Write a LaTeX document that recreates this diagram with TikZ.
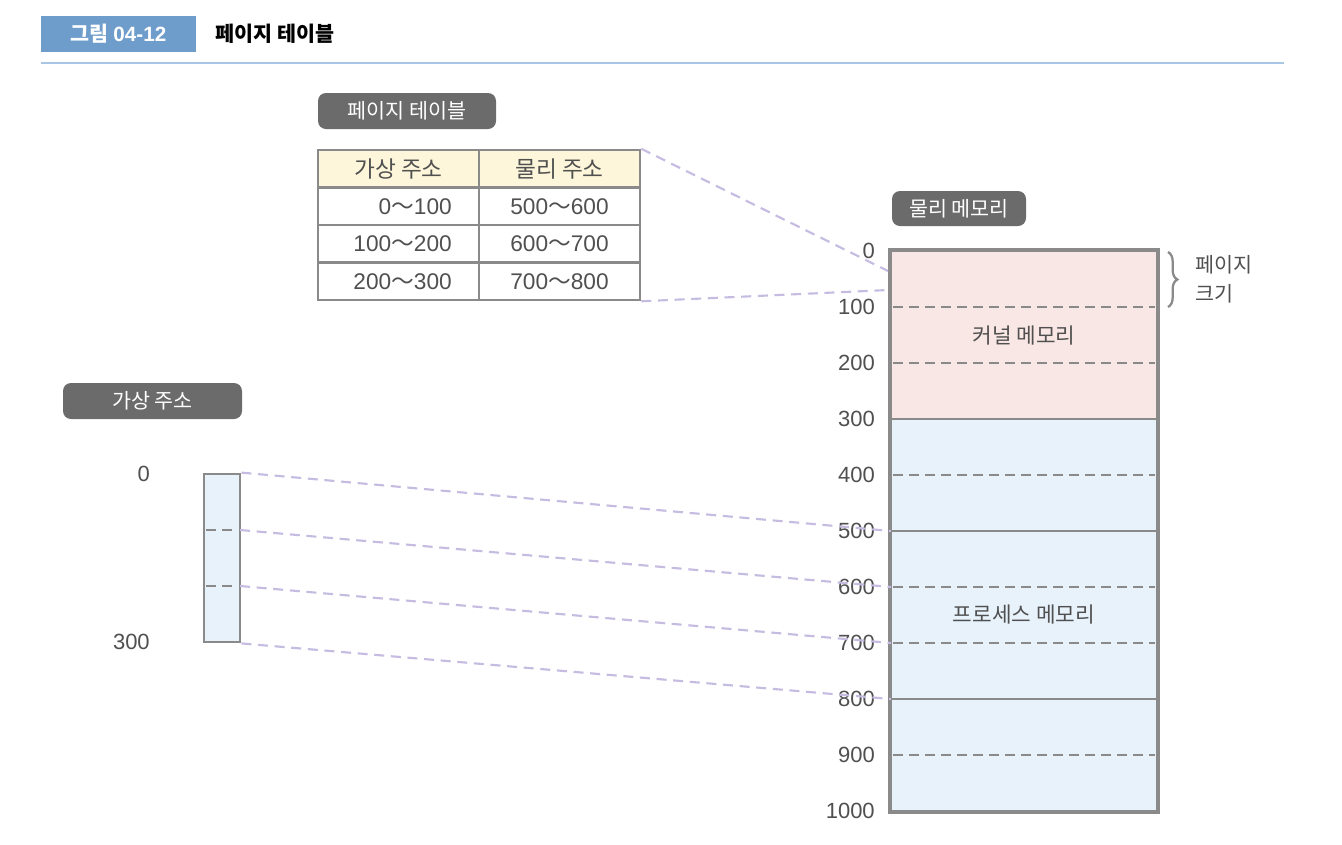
\documentclass[tikz,border=0pt]{standalone}
\usepackage{fontspec}
\setmainfont{Noto Sans CJK KR}
\newfontfamily\numf{Liberation Sans}
\usetikzlibrary{decorations.pathreplacing}
\definecolor{titleblue}{HTML}{6E9DCB}
\definecolor{ruleblue}{HTML}{A9C6E4}
\definecolor{tagbg}{HTML}{6B6B6B}
\definecolor{txt}{HTML}{505050}
\definecolor{edge}{HTML}{8A8A8A}
\definecolor{kern}{HTML}{F9E7E5}
\definecolor{proc}{HTML}{E8F2FB}
\definecolor{head}{HTML}{FDF6DA}
\definecolor{lila}{HTML}{C6BCE2}
\newcommand{\rng}[2]{{\numf #1}～{\numf #2}}
\tikzset{
  tag/.style={fill=tagbg, text=white, rounded corners=6pt, inner sep=0pt, font=\fontsize{15.5pt}{18pt}\selectfont},
  cellbox/.style={draw=edge, line width=1.9pt, minimum width=120.75pt, minimum height=28.125pt, inner sep=0pt, font=\fontsize{17pt}{20pt}\selectfont, text=txt},
  memcell/.style={draw=edge, line width=2.1pt, minimum width=199.5pt, inner sep=0pt},
  divdash/.style={draw=edge, line width=1.9pt, dash pattern=on 7.5pt off 4.5pt},
  divsolid/.style={draw=edge, line width=1.9pt},
  lbl/.style={text=txt, font=\fontsize{17pt}{20pt}\selectfont, inner sep=0pt},
  numlbl/.style={text=txt, font=\numf\fontsize{16.5pt}{20pt}\selectfont, inner sep=0pt},
  link/.style={draw=lila, line width=1.6pt, dash pattern=on 7.5pt off 5pt},
}
\begin{document}
\begin{tikzpicture}[x=0.75pt, y=-0.75pt]
\useasboundingbox[fill=white] (0,0) rectangle (1342,844);

% title
\node[fill=titleblue, text=white, minimum width=116.25pt, minimum height=27pt, inner sep=0pt, font=\bfseries\fontsize{15.5pt}{18pt}\selectfont] (fig) at (118.5,34) {그림 {\numf\bfseries 04-12}};
\node[anchor=west, inner sep=0pt, font=\bfseries\fontsize{15.5pt}{18pt}\selectfont] (ttl) at (215,34) {페이지 테이블};
\draw[ruleblue, line width=1.3pt] (41,63) -- (1284,63);

% tags
\node[tag, minimum width=133.5pt, minimum height=27pt] (tagpt) at (407,111) {페이지 테이블};
\node[tag, minimum width=100.5pt, minimum height=26.25pt] (tagpm) at (959,208.5) {물리 메모리};
\node[tag, minimum width=134.25pt, minimum height=27pt] (tagva) at (152.5,401) {가상 주소};

% table
\node[cellbox, fill=head] (h1) at (398.5,168.75) {가상 주소};
\node[cellbox, fill=head] (h2) at (559.5,168.75) {물리 주소};
\node[cellbox, fill=white] (a1) at (398.5,206.25) {};
\node[cellbox, fill=white] (b1) at (559.5,206.25) {\rng{500}{600}};
\node[cellbox, fill=white] (a2) at (398.5,243.75) {};
\node[cellbox, fill=white] (b2) at (559.5,243.75) {\rng{600}{700}};
\node[cellbox, fill=white] (a3) at (398.5,281.25) {};
\node[cellbox, fill=white] (b3) at (559.5,281.25) {\rng{700}{800}};
\node[lbl, anchor=east] (ta1) at (452,206.25) {\rng{0}{100}};
\node[lbl, anchor=east] (ta2) at (452,243.75) {\rng{100}{200}};
\node[lbl, anchor=east] (ta3) at (452,281.25) {\rng{200}{300}};

% physical memory
\node[memcell, fill=kern, minimum height=126pt] (kbox) at (1024,335) {};
\node[memcell, fill=proc, minimum height=294pt] (pbox) at (1024,615) {};
\node[lbl, font=\fontsize{16pt}{19pt}\selectfont] (ktxt) at (1024,336) {커널 메모리};
\node[lbl, font=\fontsize{16pt}{19pt}\selectfont] (ptxt) at (1024,615) {프로세스 메모리};
\foreach \k in {0,...,10} {
  \coordinate (m\k) at (891,251+56*\k);
  \coordinate (n\k) at (1157,251+56*\k);
}
\foreach \k in {1,2,4,6,7,9} { \draw[divdash] ([xshift=1.5pt]m\k) -- ([xshift=-1.5pt]n\k); }
\foreach \k in {5,8} { \draw[divsolid] (m\k) -- (n\k); }
\draw[edge, line width=2.1pt] (kbox.north west) rectangle (pbox.south east);
\foreach \k/\v in {0/0,1/100,2/200,3/300,4/400,5/500,6/600,7/700,8/800,9/900,10/1000} {
  \node[numlbl, anchor=east] (ml\k) at (875,251+56*\k) {\v};
}

% brace
\coordinate (bt) at (1168,252);
\coordinate (bb) at (1168,307);
\draw[edge, line width=1.7pt, decorate, decoration={brace, amplitude=7pt}] (bt) -- (bb);
\node[lbl, anchor=west, font=\fontsize{15.5pt}{18pt}\selectfont] (bz1) at (1195,265) {페이지};
\node[lbl, anchor=west, font=\fontsize{15.5pt}{18pt}\selectfont] (bz2) at (1195,294) {크기};

% virtual address
\node[memcell, fill=proc, minimum width=27pt, minimum height=126pt] (vbox) at (222,558) {};
\coordinate (v1L) at (204,530);
\coordinate (v1R) at (240,530);
\coordinate (v2L) at (204,586);
\coordinate (v2R) at (240,586);
\draw[divdash] ([xshift=1.5pt]v1L) -- ([xshift=-1.5pt]v1R);
\draw[divdash] ([xshift=1.5pt]v2L) -- ([xshift=-1.5pt]v2R);
\node[numlbl, anchor=east] (v0lbl) at (150,474) {0};
\node[numlbl, anchor=east] (v300lbl) at (150,642) {300};

% links
\coordinate (pt1) at (888,271);
\coordinate (pt2) at (888,290);
\draw[link] (h2.north east) -- (pt1);
\draw[link] (b3.south east) -- (pt2);
\draw[link] (vbox.north east) -- (m5);
\draw[link] (v1R) -- (m6);
\draw[link] (v2R) -- (m7);
\draw[link] (vbox.south east) -- (m8);
\end{tikzpicture}
\end{document}
